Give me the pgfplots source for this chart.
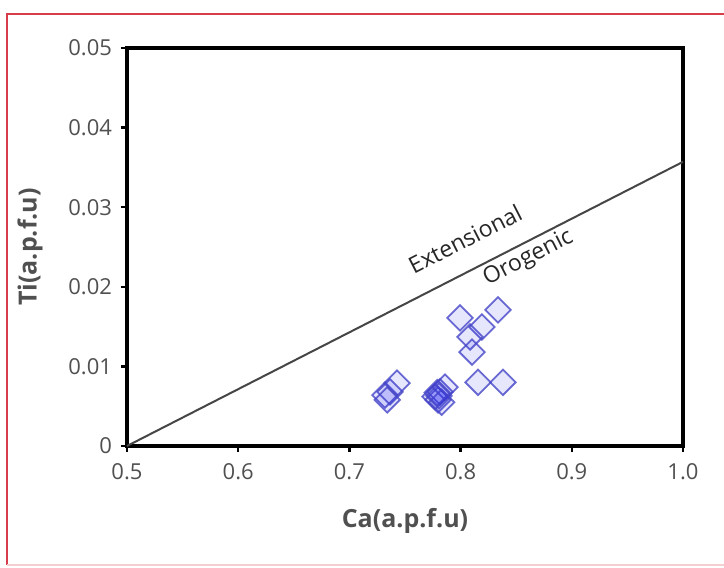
\documentclass[border=0pt]{standalone}
\usepackage{pgfplots}
\pgfplotsset{compat=1.18}
\usepackage{fontspec}
\setmainfont{Open Sans}
\definecolor{txtgray}{RGB}{80,80,80}
\definecolor{framered}{RGB}{215,60,75}
\definecolor{mkblue}{RGB}{70,70,200}
\definecolor{mkfill}{RGB}{30,30,240}
\definecolor{divline}{RGB}{70,70,70}

\pgfplotstableread{
ca      ti
0.7995  0.0161
0.8336  0.0171
0.8192  0.01495
0.8085  0.0137
0.8103  0.0118
0.8157  0.0080
0.8381  0.0080
0.7320  0.0064
0.7365  0.0068
0.7428  0.0079
0.7340  0.0058
0.7770  0.0062
0.7815  0.0068
0.7860  0.0074
0.7797  0.0058
0.7790  0.0067
0.7830  0.0055
0.7805  0.0063
}\garnet

\begin{document}
\begin{tikzpicture}
% page extent and frame
\path[use as bounding box] (-63.5pt,-61pt) rectangle (298.5pt,223pt);
\draw[framered, line width=1pt] (-60pt,-59.5pt) -- (-60pt,216pt) -- (300pt,216pt);
\draw[framered!25, line width=0.8pt] (-60pt,-59.5pt) -- (300pt,-59.5pt);
\begin{axis}[
  scale only axis,
  width=278pt, height=199pt,
  xmin=0.5, xmax=1.0, ymin=0, ymax=0.05,
  scaled y ticks=false, scaled x ticks=false,
  axis line style={line width=2pt},
  tick style={black, line width=1.2pt},
  major tick length=3pt,
  tick align=outside,
  xtick={0.5,0.6,0.7,0.8,0.9,1.0},
  xticklabels={0.5,0.6,0.7,0.8,0.9,1.0},
  ytick={0,0.01,0.02,0.03,0.04,0.05},
  yticklabels={0,0.01,0.02,0.03,0.04,0.05},
  xtick pos=bottom, ytick pos=left,
  ticklabel style={font=\fontsize{11}{13}\selectfont, text=txtgray},
  xticklabel style={yshift=-2pt},
  yticklabel style={xshift=-1pt},
  xlabel={Ca(a.p.f.u)},
  ylabel={Ti(a.p.f.u)},
  label style={font=\fontsize{12.5}{15}\selectfont\bfseries, text=txtgray},
  xlabel style={at={(rel axis cs:0.5,0)}, anchor=center, yshift=-37.5pt},
  ylabel style={at={(rel axis cs:0,0.5)}, anchor=center, yshift=48.5pt},
  clip=false,
]
% discrimination line between the two fields
\addplot[divline, line width=1pt, no marks] coordinates {(0.5,0) (1.0,0.0357)};
\node[rotate=27, font=\fontsize{11.5}{13}\selectfont, text=black!85]
  at (axis cs:0.8040,0.0260) {Extensional};
\node[rotate=27, font=\fontsize{11.5}{13}\selectfont, text=black!85]
  at (axis cs:0.861,0.0236) {Orogenic};
% samples: open diamonds with a light translucent fill
\addplot[only marks, mark=square*, mark size=4.5pt,
  mark options={rotate=45, draw=mkblue, draw opacity=0.8,
    fill=mkfill, fill opacity=0.11, line width=0.9pt}]
  table[x=ca, y=ti] {\garnet};
\end{axis}
\end{tikzpicture}
\end{document}
